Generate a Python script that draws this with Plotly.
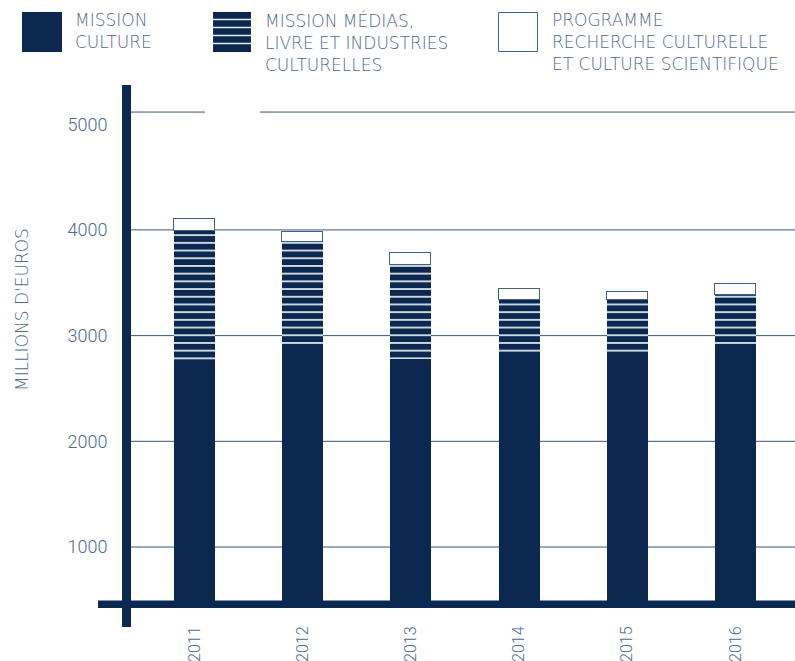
import plotly.graph_objects as go

years = ["2011", "2012", "2013", "2014", "2015", "2016"]
mission_culture = [2731, 2902, 2779, 2797, 2797, 2902]
mission_medias = [1259, 984, 889, 540, 540, 482]
programme_recherche = [113, 97, 111, 104, 73, 104]
y_ticks = [1000, 2000, 3000, 4000, 5000]

NAVY = "#0b2850"
TEXT = "#4f6b8f"
GRID = "#3a5680"
FONT = "Roboto"
LFONT = "DejaVu Sans"

W, H = 795, 661
L, R, T, B = 126, 0, 85, 57
pw, ph = W - L - R, H - T - B

def px(x):
    return (x - L) / pw

def py(y):
    return (H - B - y) / ph

xs = list(range(len(years)))
bw = 0.379

fig = go.Figure()
fig.add_trace(go.Bar(x=xs, y=mission_culture, width=bw, marker=dict(color=NAVY, line=dict(width=0)),
                     name="MISSION CULTURE"))
fig.add_trace(go.Bar(x=xs, y=mission_medias, width=bw,
                     marker=dict(color=NAVY, line=dict(width=0),
                                 pattern=dict(shape="-", fgcolor="#e8edf3", bgcolor=NAVY,
                                              size=7.7, solidity=0.22, fillmode="replace")),
                     name="MISSION MÉDIAS"))
fig.add_trace(go.Bar(x=xs, y=programme_recherche, width=bw,
                     marker=dict(color="white", line=dict(width=1.5, color="#41608a")),
                     name="PROGRAMME"))

shapes = []
# gridlines
for v in y_ticks[:-1]:
    shapes.append(dict(type="line", xref="paper", yref="y", x0=px(131), x1=1, y0=v, y1=v,
                       line=dict(color=GRID, width=1), layer="below"))
# top gridline (slightly above 5000, with a gap)
top_v = 5115
shapes.append(dict(type="line", xref="paper", yref="y", x0=px(131), x1=px(205), y0=top_v, y1=top_v,
                   line=dict(color=GRID, width=1), layer="below"))
shapes.append(dict(type="line", xref="paper", yref="y", x0=px(260), x1=1, y0=top_v, y1=top_v,
                   line=dict(color=GRID, width=1), layer="below"))
# thick axes
shapes.append(dict(type="rect", xref="paper", yref="paper", x0=px(98), x1=1, y0=py(608), y1=py(600.5),
                   fillcolor=NAVY, line=dict(width=0)))
shapes.append(dict(type="rect", xref="paper", yref="paper", x0=px(122), x1=px(131), y0=py(627), y1=py(85),
                   fillcolor=NAVY, line=dict(width=0)))

# legend swatches
shapes.append(dict(type="rect", xref="paper", yref="paper", x0=px(22), x1=px(62), y0=py(52), y1=py(12),
                   fillcolor=NAVY, line=dict(width=0)))
shapes.append(dict(type="rect", xref="paper", yref="paper", x0=px(213), x1=px(251), y0=py(52), y1=py(12),
                   fillcolor=NAVY, line=dict(width=0)))
for yy in [19.5, 27.5, 35.5, 43.5]:
    shapes.append(dict(type="line", xref="paper", yref="paper", x0=px(213), x1=px(251), y0=py(yy), y1=py(yy),
                       line=dict(color="#e8edf3", width=1.5)))
shapes.append(dict(type="rect", xref="paper", yref="paper", x0=px(498.5), x1=px(537.5), y0=py(51.5), y1=py(12.5),
                   fillcolor="white", line=dict(color="#41608a", width=1)))

annotations = []
legend_texts = [(75, "MISSION<br>CULTURE"),
                (265, "MISSION MÉDIAS,<br>LIVRE ET INDUSTRIES<br>CULTURELLES"),
                (552, "PROGRAMME<br>RECHERCHE CULTURELLE<br>ET CULTURE SCIENTIFIQUE")]
for x0, t in legend_texts:
    annotations.append(dict(xref="paper", yref="paper", x=px(x0 - 2), y=py(8),
                            xanchor="left", yanchor="top",
                            text=t, showarrow=False, align="left",
                            font=dict(family=LFONT, size=17, color=TEXT, weight=300)))
annotations.append(dict(xref="paper", yref="paper", x=px(22), y=py(310), xanchor="center", yanchor="middle",
                        text="MILLIONS D'EUROS", textangle=-90, showarrow=False,
                        font=dict(family=LFONT, size=17, color=TEXT, weight=300)))

fig.update_layout(
    width=W, height=H, margin=dict(l=L, r=R, t=T, b=B),
    barmode="stack", bargap=0, showlegend=False,
    plot_bgcolor="white", paper_bgcolor="white",
    shapes=shapes, annotations=annotations,
    xaxis=dict(range=[-0.633, 5.55], tickvals=xs, ticktext=years, tickangle=-90,
               showgrid=False, zeroline=False, showline=False,
               ticks="outside", ticklen=15, tickcolor="rgba(0,0,0,0)",
               tickfont=dict(family=FONT, size=16, color=TEXT, weight=300)),
    yaxis=dict(range=[461, 5371], tickvals=y_ticks, ticktext=[str(v) for v in y_ticks],
               showgrid=False, zeroline=False, showline=False,
               ticks="outside", ticklen=14, tickcolor="rgba(0,0,0,0)",
               tickfont=dict(family=FONT, size=18, color=TEXT, weight=300)),
)

fig.write_html("out.html")
